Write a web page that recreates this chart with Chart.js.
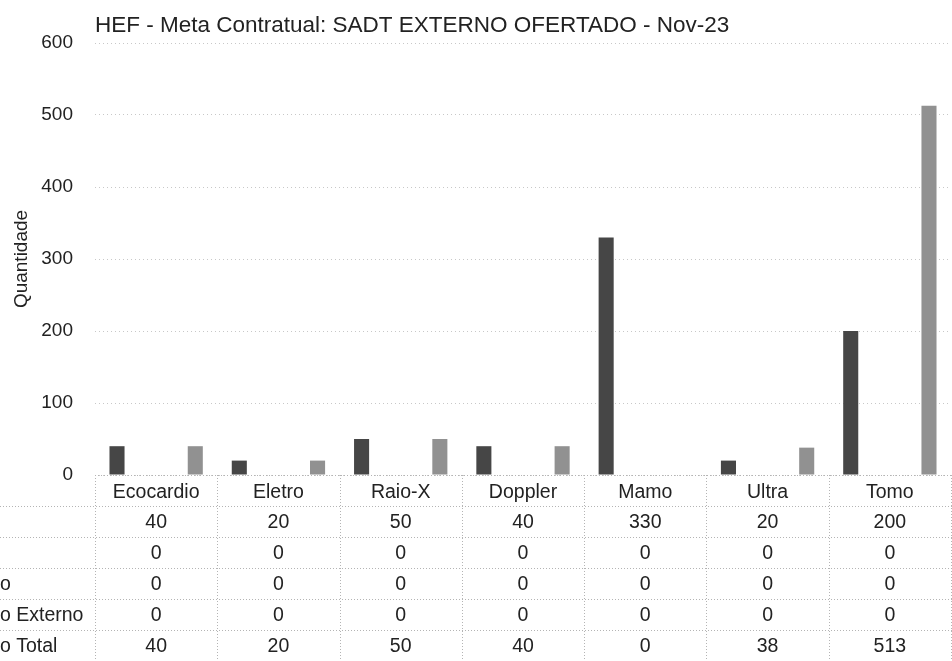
<!DOCTYPE html>
<html lang="pt">

<head>
    <meta charset="UTF-8">
    <script src="https://cdn.jsdelivr.net/npm/chart.js"></script>
    <title>SADT Externo Ofertado</title>
    <style>
        body { margin: 0; background: #fff; }
        #wrap { width: 952px; height: 661px; }
    </style>
</head>

<body>
    <div id="wrap">
        <canvas id="myChart" width="952" height="661"></canvas>
    </div>
    <script>
        const categorias = ['Ecocardio', 'Eletro', 'Raio-X', 'Doppler', 'Mamo', 'Ultra', 'Tomo'];
        const rotulosLinhas = ['', '', 'o', 'o Externo', 'o Total'];
        const linha1 = [40, 20, 50, 40, 330, 20, 200];
        const linha2 = [0, 0, 0, 0, 0, 0, 0];
        const linha3 = [0, 0, 0, 0, 0, 0, 0];
        const linha4 = [0, 0, 0, 0, 0, 0, 0];
        const linhaTotal = [40, 20, 50, 40, 0, 38, 513];
        const yTicks = [0, 100, 200, 300, 400, 500, 600];

        const linhas = [linha1, linha2, linha3, linha4, linhaTotal];
        const cores = ['#464646', '#6a6a6a', '#7a7a7a', '#858585', '#919191'];

        const fonte = 'Arial, "Liberation Sans", sans-serif';
        const alturaLinha = 31;

        // desenha a tabela de dados embaixo do grafico
        const tabelaPlugin = {
            id: 'tabela',
            afterDraw(chart) {
                const ctx = chart.ctx;
                const x = chart.scales.x;
                const area = chart.chartArea;
                const larg = (area.right - area.left) / categorias.length;
                const topo = area.bottom;
                const fundo = chart.height;
                ctx.save();
                ctx.strokeStyle = '#b4b4b4';
                ctx.lineWidth = 1;
                ctx.setLineDash([1, 2]);
                // linhas horizontais
                for (let k = 0; k <= linhas.length + 1; k++) {
                    const y = Math.round(topo + k * alturaLinha) + 0.5;
                    ctx.beginPath();
                    ctx.moveTo(k == 0 ? area.left : 0, y);
                    ctx.lineTo(chart.width, y);
                    ctx.stroke();
                }
                // linhas verticais
                for (let i = 0; i <= categorias.length; i++) {
                    const xx = Math.round(area.left + i * larg) + 0.5;
                    ctx.beginPath();
                    ctx.moveTo(xx, topo);
                    ctx.lineTo(xx, fundo);
                    ctx.stroke();
                }
                ctx.setLineDash([]);
                ctx.fillStyle = '#222';
                ctx.font = '19.5px ' + fonte;
                ctx.textBaseline = 'middle';
                ctx.textAlign = 'center';
                categorias.forEach(function (c, i) {
                    const cx = x.getPixelForValue(i);
                    ctx.fillText(c, cx, topo + alturaLinha / 2 + 2);
                    linhas.forEach(function (l, r) {
                        ctx.fillText(String(l[i]), cx, topo + (r + 1.5) * alturaLinha + 1);
                    });
                });
                ctx.textAlign = 'left';
                rotulosLinhas.forEach(function (t, r) {
                    ctx.fillText(t, 0, topo + (r + 1.5) * alturaLinha + 1);
                });
                ctx.restore();
            }
        };

        const ctx = document.getElementById('myChart');
        const myChart = new Chart(ctx, {
            type: 'bar',
            data: {
                labels: categorias,
                datasets: linhas.map(function (l, r) {
                    return {
                        label: rotulosLinhas[r] || ('Linha ' + (r + 1)),
                        data: l,
                        backgroundColor: cores[r],
                        barPercentage: 0.77,
                        categoryPercentage: 0.8
                    };
                })
            },
            options: {
                responsive: false,
                animation: false,
                layout: { padding: { left: 0, right: 1, top: 0, bottom: 186 } },
                plugins: {
                    legend: { display: false },
                    tooltip: { enabled: false },
                    title: {
                        display: true,
                        text: 'HEF - Meta Contratual: SADT EXTERNO OFERTADO - Nov-23',
                        align: 'start',
                        fullSize: false,
                        color: '#222',
                        font: { family: fonte, size: 22.5, weight: 'normal' },
                        padding: { top: 12, bottom: 4 }
                    }
                },
                scales: {
                    x: {
                        display: false
                    },
                    y: {
                        min: 0,
                        max: 600,
                        afterBuildTicks: function (s) {
                            s.ticks = yTicks.map(function (v) { return { value: v }; });
                        },
                        afterFit: function (s) { s.width = 95; },
                        border: { display: false, dash: [1, 3] },
                        grid: {
                            color: '#c8c8c8',
                            drawTicks: false
                        },
                        ticks: {
                            padding: 22,
                            color: '#222',
                            font: { family: fonte, size: 19 }
                        },
                        title: {
                            display: true,
                            text: 'Quantidade',
                            color: '#222',
                            padding: { top: 10, bottom: 0 },
                            font: { family: fonte, size: 19 }
                        }
                    }
                }
            },
            plugins: [tabelaPlugin]
        });
    </script>
</body>

</html>
